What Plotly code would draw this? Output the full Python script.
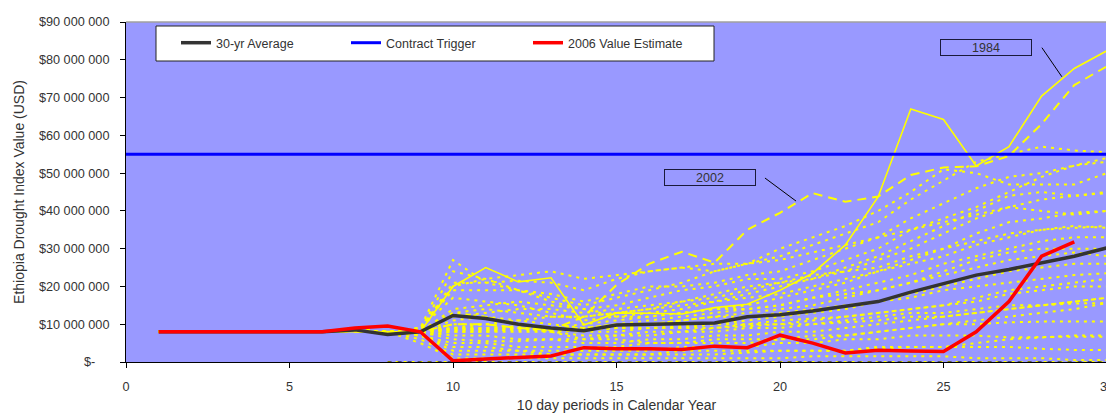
import plotly.graph_objects as go

# ---------------- data (values in millions of USD) ----------------
periods = list(range(1, 31))
periods_2006 = list(range(1, 30))

avg_30yr = [8, 8, 8, 8, 8, 8, 8.5, 7.3, 8, 12.3, 11.5, 10, 9, 8.3, 9.8, 10, 10.2, 10.3,
            12, 12.5, 13.5, 14.8, 16, 18.5, 20.8, 23, 24.5, 26.3, 28, 30.2]
value_2006 = [8, 8, 8, 8, 8, 8, 9, 9.5, 8, 0.3, 0.8, 1.2, 1.6, 3.8, 3.5, 3.5, 3.3, 4.2,
              3.8, 7.1, 5, 2.4, 3.1, 2.9, 2.8, 8, 16, 28, 31.8]
trigger_x = [0, 30]
trigger = [55, 55]

year_1984 = [8, 8, 8, 8, 8, 8, 8, 8, 8, 20, 25, 21.2, 22.3, 9.8, 13, 12.9, 12.7, 14.4,
             15.3, 19, 23.5, 31, 43.7, 67, 64.2, 51.9, 57, 70.4, 77.7, 82.4]
year_2002 = [8, 8, 8, 8, 8, 8, 8, 8, 8, 10, 10, 9, 8.5, 12, 20.4, 26, 29.2, 26.3,
             35, 39.5, 44.7, 42.4, 43.8, 49.5, 51.5, 51.8, 54.5, 63, 73.3, 78.3]

base_1_7 = [8, 8, 8, 8, 8, 8, 8.5]  # periods 1-7, common to all years
other_years = {
    "1976": [8, 9, 27, 21, 19, 17, 15, 17, 19, 21, 24, 26, 28, 31, 34, 37, 43, 48, 53, 55, 57, 56, 55.5],
    "1977": [8, 8.5, 21, 21, 21.5, 21, 19, 22, 24, 25, 24, 26, 30, 33, 36, 40, 45, 51, 50, 47, 47, 47, 50],
    "1978": [8, 9, 19, 19, 19, 18, 16, 18, 20, 20, 21, 23, 24, 27, 30, 33, 38, 42, 46, 49, 50, 52, 53],
    "1979": [8, 8, 14, 15, 16, 15, 14, 15, 17, 19, 20, 22, 22, 24, 27, 30, 35, 37, 39, 41, 40, 39, 40],
    "1980": [8, 8, 13, 14, 13, 12, 12, 13, 14, 16, 18, 20, 21, 22, 25, 28, 32, 36, 40, 44, 45, 44, 45],
    "1981": [8, 9, 17, 16, 15, 13, 11, 12, 13, 14, 16, 17, 18, 20, 22, 24, 26, 28, 31, 33, 35, 36, 35.5],
    "1982": [8, 8.5, 24, 22, 19, 16, 14, 12, 12, 13, 14, 14, 15, 17, 19, 21, 23, 26, 28, 30, 32, 33, 33],
    "1983": [8, 8, 9, 9, 9, 8.5, 8.5, 9, 10, 11, 12, 13, 14, 15, 17, 19, 21, 24, 27, 29, 30, 30, 30],
    "1985": [8, 8, 9, 8.5, 8.5, 8.5, 8, 8, 9, 9, 10, 11, 12, 13, 14, 16, 18, 20, 22, 24, 25, 26, 26],
    "1986": [8, 8, 8.5, 8.5, 9, 9, 9, 10, 11, 12, 13, 14, 15, 17, 18, 19, 21, 23, 25, 27, 28, 29, 28],
    "1987": [8, 8, 11, 12, 11, 10, 9, 10, 10, 11, 12, 12, 13, 14, 15, 16, 17, 19, 20, 21, 22, 23, 23.5],
    "1988": [8, 8, 10, 10, 9, 8, 7, 7, 8, 8, 9, 10, 10, 11, 12, 13, 14, 15, 16, 18, 19, 20, 20],
    "1989": [8, 8, 7, 7, 6, 6, 6, 7, 7, 8, 8, 9, 9, 10, 11, 12, 13, 13, 14, 15, 15, 15.5, 15.6],
    "1990": [8, 8, 6, 5.5, 5.5, 6, 5, 5, 6, 6, 7, 7, 8, 8, 9, 10, 11, 12, 13, 14, 15, 16, 17],
    "1991": [8, 7, 5, 5, 4, 4, 4, 4, 5, 5, 6, 6, 6, 7, 7, 8, 9, 10, 10, 10.5, 10.7, 10.7, 10.7],
    "1992": [8, 7, 4, 4, 3, 3, 3, 3, 3, 4, 4, 4, 5, 5, 6, 6, 7, 7, 7, 6.5, 6.7, 6.7, 6.7],
    "1993": [8, 6, 2, 2, 2, 2, 2, 2, 2, 3, 3, 3, 3, 3, 3, 4, 4, 4, 4, 4, 3.5, 3.2, 3.2],
    "1994": [8, 5, 1, 1, 1, 1, 1, 1, 1, 1, 1, 1, 1, 1.5, 1.5, 1.5, 1.5, 1.5, 1, 1, 1, 0.5, 0.5],
    "1995": [8, 7, 8, 8, 9, 9, 10, 11, 12, 13, 14, 15, 17, 19, 21, 24, 27, 30, 34, 37, 38, 39.5, 40],
    "1996": [8, 8, 9, 10, 11, 12, 12, 13, 14, 15, 16, 18, 20, 22, 24, 27, 30, 34, 38, 41, 43, 44, 44.7],
    "1997": [8, 8.5, 12, 13, 14, 14, 13, 14, 15, 16, 17, 19, 21, 23, 24, 25, 28, 30, 32, 34, 35, 35.5, 36],
    "1998": [8, 8, 8.5, 9, 9.5, 9, 8.5, 9, 9, 9.5, 10, 10, 11, 11.5, 12, 13, 14, 15, 17, 19, 20, 21, 22],
    "1999": [8, 8, 13, 12, 10, 8, 6, 6, 5, 5, 5, 5, 6, 6, 7, 8, 9, 10, 11, 12, 13, 14, 15.6],
    "2000": [8, 9, 20, 22, 23, 24, 22, 23, 24, 25, 26, 26, 27, 29, 31, 33, 35, 38, 41, 45, 49, 52, 54],
    "2001": [8, 7, 3, 3, 3, 2, 2, 2, 2, 2, 2, 2.5, 3, 3, 3, 3.5, 4, 4, 5, 6, 6.5, 7, 7],
    "2003": [8, 8, 8, 8, 8, 8, 8.5, 9, 9, 9, 9, 9.5, 10, 10, 10.5, 11, 12, 12, 13, 14, 15, 16, 17],
    "2004": [0, 0, 0, 0, 0, 0, 0, 0, 0, 0, 0, 0, 0, 0, 0, 0, 0, 0, 0, 0, 0, 0, 0],
}
zero_periods = list(range(8, 31))
zero_line = [0] * 23

M = 1e6
y_ticks = [0, 10, 20, 30, 40, 50, 60, 70, 80, 90]
y_ticktext = ["$-\u00a0\u00a0\u00a0\u00a0"] + [f"${v} 000 000" for v in y_ticks[1:]]
x_ticks = [0, 5, 10, 15, 20, 25, 30]

FONT = "Liberation Sans, Arial, sans-serif"
TXT = "#333333"

fig = go.Figure()

for yr, vals in other_years.items():
    xs = list(range(1, 31)) if yr != "2004" else zero_periods
    ys = (base_1_7 + vals) if yr != "2004" else vals
    fig.add_trace(go.Scatter(
        x=xs, y=[v * M for v in ys], mode="lines", name=yr, showlegend=False,
        line=dict(color="#FFFF00", width=2, dash="3px,5px")))

fig.add_trace(go.Scatter(x=zero_periods, y=[v * M for v in zero_line], mode="lines",
                         showlegend=False, line=dict(color="#000000", width=1.2, dash="4px,6px")))
fig.add_trace(go.Scatter(x=periods, y=[v * M for v in year_2002], mode="lines", name="2002",
                         showlegend=False, line=dict(color="#FFFF00", width=2, dash="9px,6px")))
fig.add_trace(go.Scatter(x=periods, y=[v * M for v in year_1984], mode="lines", name="1984",
                         showlegend=False, line=dict(color="#FFFF00", width=1.6)))

fig.add_trace(go.Scatter(x=trigger_x, y=[v * M for v in trigger], mode="lines",
                         name="Contract Trigger", legend="legend2",
                         line=dict(color="#0000FF", width=3)))
fig.add_trace(go.Scatter(x=periods, y=[v * M for v in avg_30yr], mode="lines",
                         name="30-yr Average", legend="legend",
                         line=dict(color="#333333", width=3.5)))
fig.add_trace(go.Scatter(x=periods_2006, y=[v * M for v in value_2006], mode="lines",
                         name="2006 Value Estimate", legend="legend3",
                         line=dict(color="#FF0000", width=3.5)))

leg_common = dict(orientation="h", bgcolor="rgba(0,0,0,0)", borderwidth=0,
                  font=dict(family=FONT, size=12.5, color=TXT),
                  yanchor="middle", y=0.938, xanchor="left")

# page body adds an 8px offset, so the figure is 8px smaller and margins shifted
fig.update_layout(
    width=1106, height=405,
    margin=dict(l=118, r=7, t=14, b=51),
    paper_bgcolor="white", plot_bgcolor="#9999FF",
    font=dict(family=FONT, size=12.5, color=TXT),
    legend=dict(**leg_common, x=(176 - 126) / 981),
    legend2=dict(**leg_common, x=(346 - 126) / 981),
    legend3=dict(**leg_common, x=(528 - 126) / 981),
    xaxis=dict(range=[0, 30], tickvals=x_ticks, ticks="outside", ticklen=5, tickcolor="black",
               showline=True, linecolor="black", linewidth=1, showgrid=False, zeroline=False,
               automargin=False, ticklabelstandoff=8, ticklabeloverflow="allow",
               tickfont=dict(family=FONT, size=12.7, color=TXT),
               title=dict(text="10 day periods in Calendar Year",
                          font=dict(family=FONT, size=14, color=TXT), standoff=8)),
    yaxis=dict(range=[0, 90 * M], tickvals=[v * M for v in y_ticks], ticktext=y_ticktext,
               ticks="outside", ticklen=5, tickcolor="black",
               showline=True, linecolor="black", linewidth=1, showgrid=False, zeroline=False,
               automargin=False, ticklabelstandoff=8,
               tickfont=dict(family=FONT, size=12.7, color=TXT),
               title=dict(text="Ethiopia Drought Index Value (USD)",
                          font=dict(family=FONT, size=14, color=TXT), standoff=10)),
    shapes=[
        dict(type="line", xref="paper", yref="paper", x0=0, x1=1, y0=1, y1=1,
             line=dict(color="#A0A0A0", width=1.5)),
        dict(type="line", xref="paper", yref="paper", x0=1, x1=1, y0=0, y1=1,
             line=dict(color="#A0A0A0", width=1.5)),
        # legend frame
        dict(type="rect", xref="paper", yref="paper",
             x0=(156 - 126) / 981, x1=(714 - 126) / 981,
             y0=(362 - 61) / 340, y1=(362 - 26) / 340,
             fillcolor="white", line=dict(color="#222222", width=1), layer="above"),
        # annotation pointers
        dict(type="line", x0=28.01, y0=83.2 * M, x1=28.62, y1=75.5 * M,
             line=dict(color="black", width=1)),
        dict(type="line", x0=19.54, y0=48.7 * M, x1=20.49, y1=42.6 * M,
             line=dict(color="black", width=1)),
    ],
    annotations=[
        dict(x=26.31, y=83.38 * M, text="1984", showarrow=False, width=88, height=13,
             borderpad=1, borderwidth=1, bordercolor="#1a1a3a",
             font=dict(family=FONT, size=12.5, color=TXT)),
        dict(x=17.86, y=48.84 * M, text="2002", showarrow=False, width=88, height=13,
             borderpad=1, borderwidth=1, bordercolor="#1a1a3a",
             font=dict(family=FONT, size=12.5, color=TXT)),
    ],
)

fig.write_html("out.html")
